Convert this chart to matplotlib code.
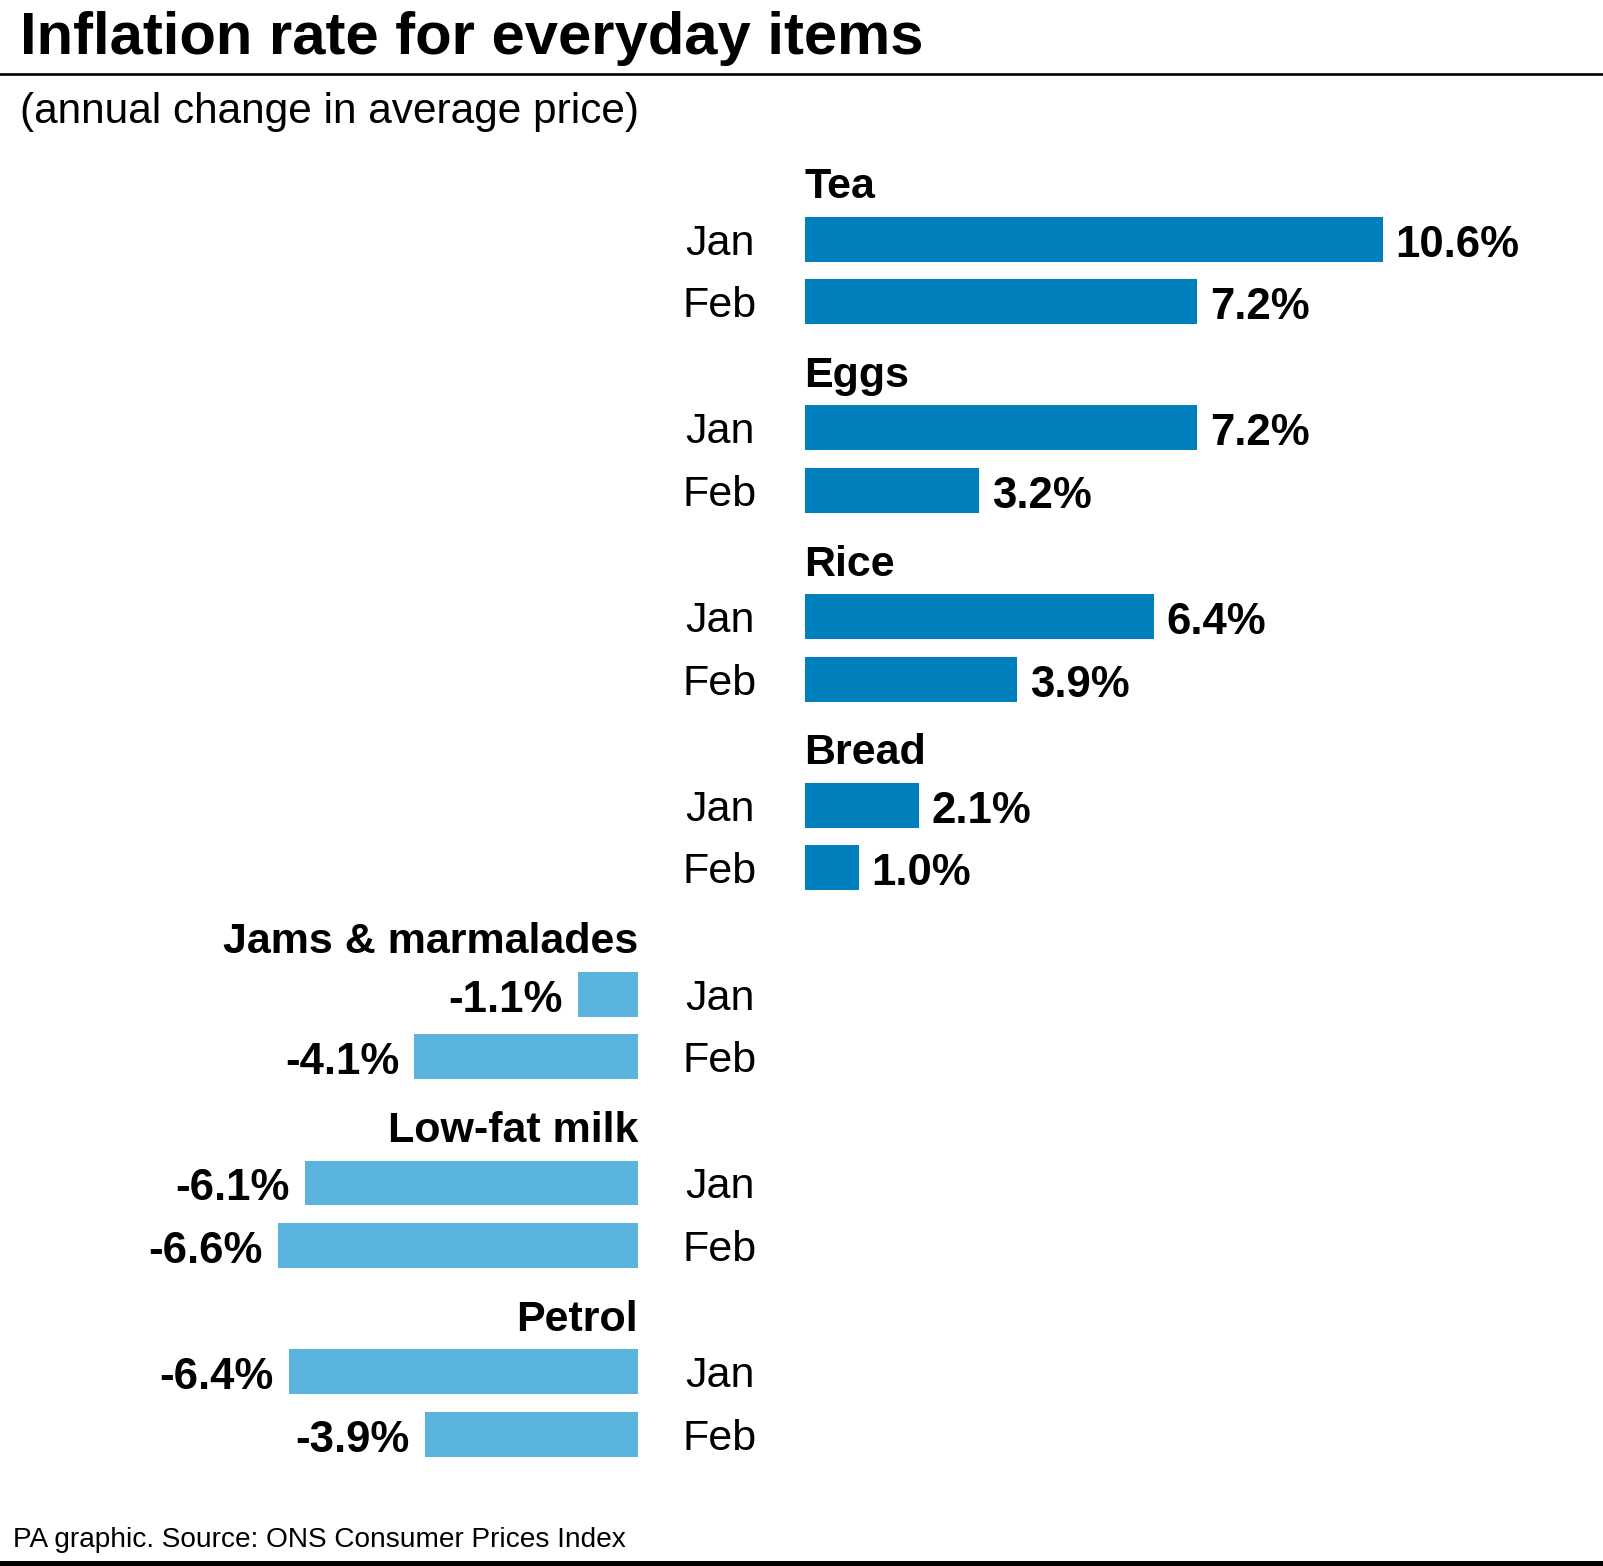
import matplotlib
matplotlib.use("Agg")
import matplotlib.pyplot as plt
import matplotlib.transforms as mtransforms

plt.rcParams['font.family'] = ['Liberation Sans', 'DejaVu Sans']

# ---- data ----
categories = ["Tea", "Eggs", "Rice", "Bread", "Jams & marmalades", "Low-fat milk", "Petrol"]
months = ["Jan", "Feb"]
jan_values = [10.6, 7.2, 6.4, 2.1, -1.1, -6.1, -6.4]
feb_values = [7.2, 3.2, 3.9, 1.0, -4.1, -6.6, -3.9]

title = "Inflation rate for everyday items"
subtitle = "(annual change in average price)"
footer = "PA graphic. Source: ONS Consumer Prices Index"

POS_COLOR = "#0080bd"
NEG_COLOR = "#5ab4de"

W, H = 1603, 1566
fig = plt.figure(figsize=(W / 100, H / 100), dpi=100)

px_per_pct = 54.55
zero_pos = 804.5
zero_neg = 638.0
row_px = 62.4
first_row_px = 239.2
group_pitch = 3.025
bar_h = 0.72

ylim = ((H - first_row_px) / row_px, -first_row_px / row_px)

ax_pos = fig.add_axes([0, 0, 1, 1])
ax_neg = fig.add_axes([0, 0, 1, 1])
for ax, z in ((ax_pos, zero_pos), (ax_neg, zero_neg)):
    ax.set_xlim(-z / px_per_pct, (W - z) / px_per_pct)
    ax.set_ylim(*ylim)
    ax.axis("off")
    ax.patch.set_alpha(0)

label_tf = mtransforms.blended_transform_factory(fig.transFigure, ax_pos.transData)
month_x = 720 / W

for g, cat in enumerate(categories):
    vals = [jan_values[g], feb_values[g]]
    ys = [g * group_pitch, g * group_pitch + 1]
    neg = vals[0] < 0
    ax = ax_neg if neg else ax_pos
    color = NEG_COLOR if neg else POS_COLOR
    ax.barh(ys, vals, height=bar_h, color=color, edgecolor="none")
    # category label
    ax.text(0, g * group_pitch - 0.66, cat, ha="right" if neg else "left",
            va="baseline", fontsize=31, fontweight="bold", color="black")
    for m, y, v in zip(months, ys, vals):
        ax.annotate(f"{v:.1f}%", xy=(v, y), xytext=(-11 if neg else 9, -1),
                    textcoords="offset points", ha="right" if neg else "left",
                    va="center_baseline", fontsize=31.5, fontweight="bold",
                    color="black")
        ax_pos.text(month_x, y, m, transform=label_tf, ha="center",
                    va="center_baseline", fontsize=31, color="black")

# titles and rules
fig.text(20.5 / W, 1 - 54 / H, title, ha="left", va="baseline",
         fontsize=43, fontweight="bold", color="black")
fig.add_artist(plt.Line2D([0, 1], [1 - 73.6 / H, 1 - 73.6 / H],
                          transform=fig.transFigure, color="black", lw=1.9))
fig.text(20 / W, 1 - 123 / H, subtitle, ha="left", va="baseline",
         fontsize=30.5, color="black")
fig.text(13 / W, 1 - 1547 / H, footer, ha="left", va="baseline",
         fontsize=20.2, color="black")
fig.add_artist(plt.Line2D([0, 1], [1 - 1563 / H, 1 - 1563 / H],
                          transform=fig.transFigure, color="black", lw=3.6))

fig.savefig("out.png", dpi=100, facecolor="white")
